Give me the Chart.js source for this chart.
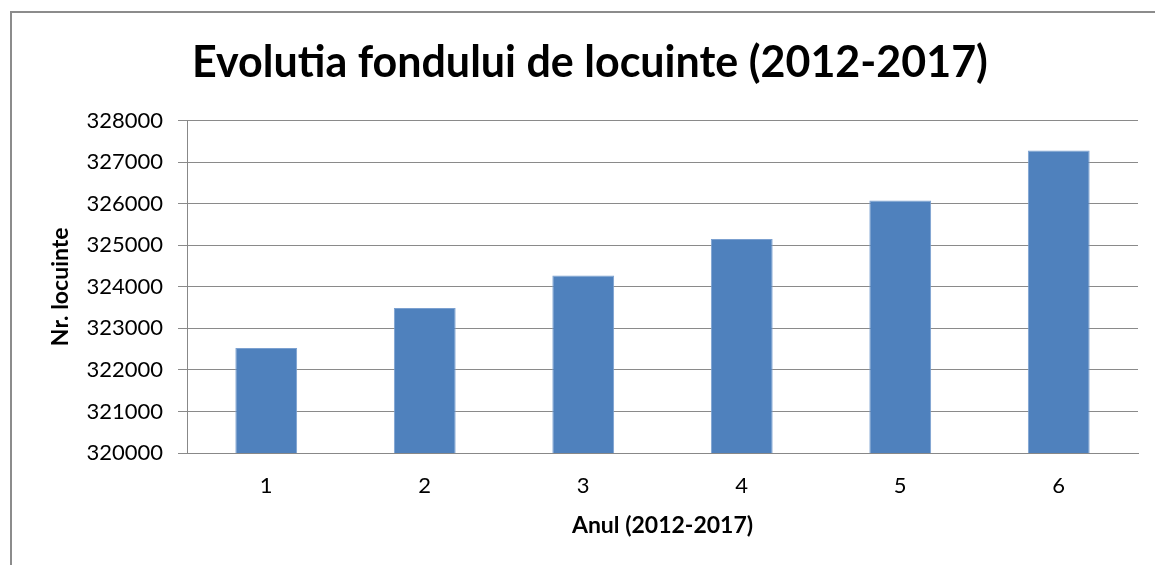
<!DOCTYPE html>
<html>
<head>
<meta charset="utf-8">
<script src="https://cdn.jsdelivr.net/npm/chart.js@4"></script>
<style>
  html, body { margin: 0; padding: 0; background: #fff; overflow: hidden; }
  #wrap { position: relative; width: 1155px; height: 565px; }
  #frame { position: absolute; left: 10px; top: 11px; width: 1200px; height: 600px;
           border-left: 2px solid #8c8c8c; border-top: 2px solid #8c8c8c; }
  canvas { position: absolute; left: 0; top: 0; }
</style>
</head>
<body>
<div id="wrap">
  <div id="frame"></div>
  <canvas id="chart" width="1155" height="565"></canvas>
</div>
<script>
var categories = ['1', '2', '3', '4', '5', '6'];
var locuinte = [322530, 323490, 324270, 325150, 326080, 327280];
var yMin = 320000;
var yMax = 328000;
var yStep = 1000;

function drawChart(canvasId) {
    var canvasElement = document.getElementById(canvasId);
    if (!canvasElement) {
        console.error("Canvas element not found");
        return;
    }
    var ctx = canvasElement.getContext('2d');

    new Chart(ctx, {
        type: 'bar',
        data: {
            labels: categories,
            datasets: [{
                label: 'Nr. locuinte',
                data: locuinte,
                backgroundColor: '#4f81bd',
                borderColor: '#7ba0d0',
                borderWidth: 1,
                categoryPercentage: 1,
                barPercentage: 0.39
            }]
        },
        options: {
            responsive: false,
            animation: false,
            // left padding keeps the title centred over the same spot as the original
            layout: { padding: { left: 42, right: 17, top: 0, bottom: 0 } },
            plugins: {
                legend: { display: false },
                tooltip: { enabled: false },
                title: {
                    display: true,
                    text: 'Evolutia fondului de locuinte (2012-2017)',
                    color: '#000',
                    font: { family: 'Lato', size: 43, weight: 'bold', lineHeight: 1.2 },
                    padding: { top: 37, bottom: 32 }
                }
            },
            scales: {
                x: {
                    grid: { display: false, drawTicks: false },
                    border: { color: '#888', width: 1 },
                    ticks: {
                        color: '#000',
                        padding: 20,
                        font: { family: 'Lato', size: 22 }
                    },
                    title: {
                        display: true,
                        text: 'Anul (2012-2017)',
                        color: '#000',
                        font: { family: 'Lato', size: 23, weight: 'bold', lineHeight: 1.2 },
                        padding: { top: 0, bottom: 26 }
                    },
                    afterFit: function (scale) { scale.height = 112; }
                },
                y: {
                    min: yMin,
                    max: yMax,
                    grid: { color: '#8a8a8a', lineWidth: 1, tickLength: 9 },
                    border: { color: '#888', width: 1 },
                    ticks: {
                        stepSize: yStep,
                        color: '#000',
                        padding: 15,
                        font: { family: 'Lato', size: 22 },
                        callback: function (v) { return String(v); }
                    },
                    title: {
                        display: true,
                        text: 'Nr. locuinte',
                        color: '#000',
                        font: { family: 'Lato', size: 23, weight: 'bold', lineHeight: 1.2 },
                        padding: { top: 5, bottom: 0 }
                    },
                    afterFit: function (scale) { scale.width = 145; }
                }
            }
        }
    });
}

drawChart('chart');
</script>
</body>
</html>
